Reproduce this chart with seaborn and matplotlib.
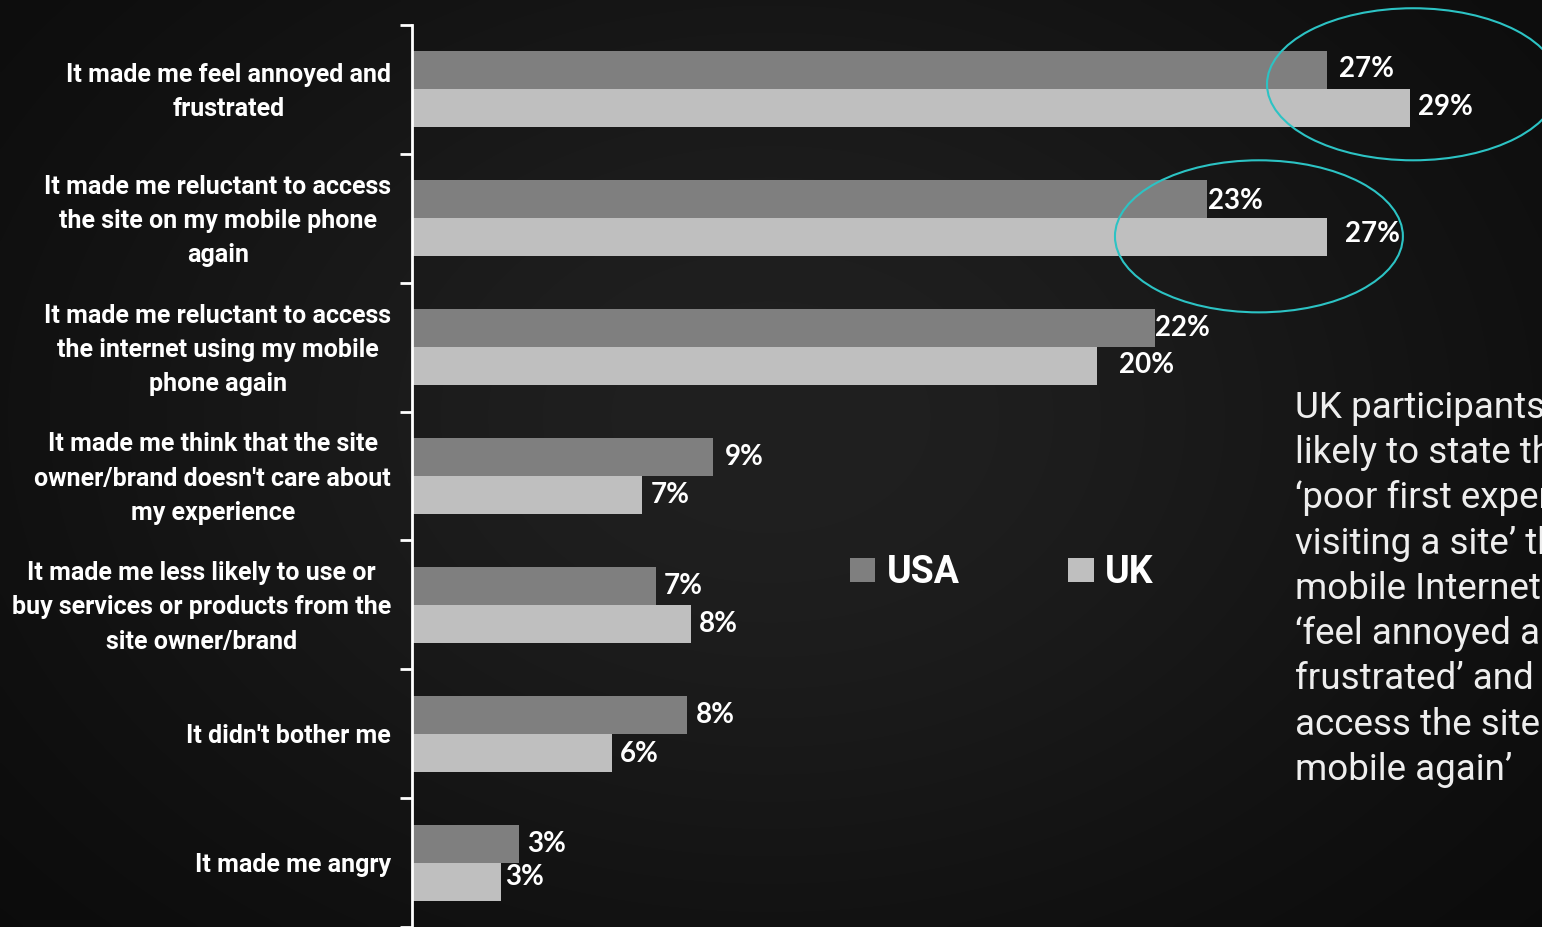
import numpy as np
import pandas as pd
import matplotlib
matplotlib.use("Agg")
import matplotlib.pyplot as plt
from matplotlib.patches import Ellipse
from matplotlib.transforms import ScaledTranslation
import seaborn as sns

# ---- data -------------------------------------------------------------
categories = [
    "It made me feel annoyed and\nfrustrated",
    "It made me reluctant to access\nthe site on my mobile phone\nagain",
    "It made me reluctant to access\nthe internet using my mobile\nphone again",
    "It made me think that the site\nowner/brand doesn't care about\nmy experience",
    "It made me less likely to use or\nbuy services or products from the\nsite owner/brand",
    "It didn't bother me",
    "It made me angry",
]
series = ["USA", "UK"]
usa_pct = [26.6, 23.1, 21.6, 8.75, 7.1, 8.0, 3.1]
uk_pct = [29.0, 26.6, 19.9, 6.7, 8.1, 5.8, 2.6]

note = ("UK participants are more\n"
        "likely to state that a\n"
        "\u2018poor first experience\n"
        "visiting a site\u2019 through\n"
        "mobile Internet made them\n"
        "\u2018feel annoyed and\n"
        "frustrated\u2019 and \u2018reluctant to\n"
        "access the site on their\n"
        "mobile again\u2019")

# ---- style ------------------------------------------------------------
sns.set_theme(style="white")
SANS = ["Roboto", "DejaVu Sans"]
NUM = ["Lato", "DejaVu Sans"]
plt.rcParams["font.family"] = SANS
colors = {"USA": "#7f7f7f", "UK": "#bfbfbf"}

W, H = 1542, 927
fig = plt.figure(figsize=(W / 100, H / 100), dpi=100)

# soft radial backdrop
bg = fig.add_axes([0, 0, 1, 1], zorder=0)
yy, xx = np.mgrid[0:1:300j, 0:1:500j]
d = ((xx - 0.50) / 0.62) ** 2 + ((yy - 0.45) / 0.75) ** 2
shade = 0.03 + (0.125 - 0.03) * np.exp(-1.5 * d)
bg.imshow(shade, cmap="gray", vmin=0, vmax=1, aspect="auto",
          extent=(0, 1, 0, 1), origin="upper", interpolation="bicubic")
bg.set_axis_off()

# main bar axes
x0 = 412
ax = fig.add_axes([x0 / W, 0, 1 - x0 / W, 902 / H], zorder=1)
ax.patch.set_alpha(0)

df = pd.DataFrame({
    "category": categories * 2,
    "country": ["USA"] * len(categories) + ["UK"] * len(categories),
    "value": usa_pct + uk_pct,
})
sns.barplot(data=df, x="value", y="category", hue="country", orient="h",
            hue_order=series, palette=colors, width=0.59, saturation=1,
            linewidth=0, edgecolor="none", ax=ax)

ax.set_xlim(0, (W - x0) / 34.4)
ax.set_ylim(len(categories) - 0.5, -0.5)
ax.set_xlabel("")
ax.set_ylabel("")
ax.set_xticks([])

for s in ["top", "right", "bottom"]:
    ax.spines[s].set_visible(False)
ax.spines["left"].set_color("white")
ax.spines["left"].set_linewidth(2)

ax.set_yticks(np.arange(-0.5, len(categories) + 0.5, 1), minor=True)
ax.tick_params(axis="y", which="minor", length=9, width=2, color="white",
               left=True)
ax.tick_params(axis="y", which="major", length=0, pad=15,
               labelsize=18, labelcolor="white")
lift = ScaledTranslation(0, 0.05, fig.dpi_scale_trans)
for lab in ax.get_yticklabels():
    lab.set_multialignment("center")
    lab.set_fontweight("bold")
    lab.set_linespacing(1.54)
    if "\n" in lab.get_text():
        lab.set_transform(lab.get_transform() + lift)

# value labels (pixel nudges per bar)
gap_px = {"USA": [12, 1, 0, 12, 8, 9, 9], "UK": [8, 18, 22, 8, 8, 8, 4]}
dy_px = {"USA": [-1, 2, 0, 0, 0, 0, 0], "UK": [-1, -3, -1, 0, 0, 1, -5]}
for name, cont in zip(series, ax.containers):
    for i, bar in enumerate(cont):
        v = bar.get_width()
        yc = bar.get_y() + bar.get_height() / 2
        ax.annotate(f"{v:.0f}%", xy=(v, yc),
                    xytext=(gap_px[name][i] * 0.72, -dy_px[name][i] * 0.72),
                    textcoords="offset points", ha="left", va="center",
                    color="white", fontsize=20, fontweight="bold",
                    family=NUM, annotation_clip=False)

# highlight rings
ring = "#2cc3c4"
for cx, cy, w, h in [(29.1, -0.04, 8.49, 1.18), (24.62, 1.14, 8.37, 1.18)]:
    ax.add_patch(Ellipse((cx, cy), w, h, fill=False, edgecolor=ring,
                         linewidth=1.5, clip_on=False, zorder=5))

# legend
handles, labels = ax.get_legend_handles_labels()
for hd in handles:
    hd.set_edgecolor("none")
ax.legend(handles, labels, ncol=2, loc="center",
          bbox_to_anchor=(0.522, 0.393), frameon=False,
          prop={"family": SANS, "weight": "bold", "size": 27},
          labelcolor="white", handlelength=0.68, handleheight=0.62,
          handletextpad=0.3, columnspacing=2.9)

# side commentary
fig.text(1295 / W, 1 - 390 / H, note, ha="left", va="top", fontsize=26.5,
         color="#eeeeee", linespacing=1.33, family=SANS)

fig.savefig("out.png", dpi=100, facecolor="black")
